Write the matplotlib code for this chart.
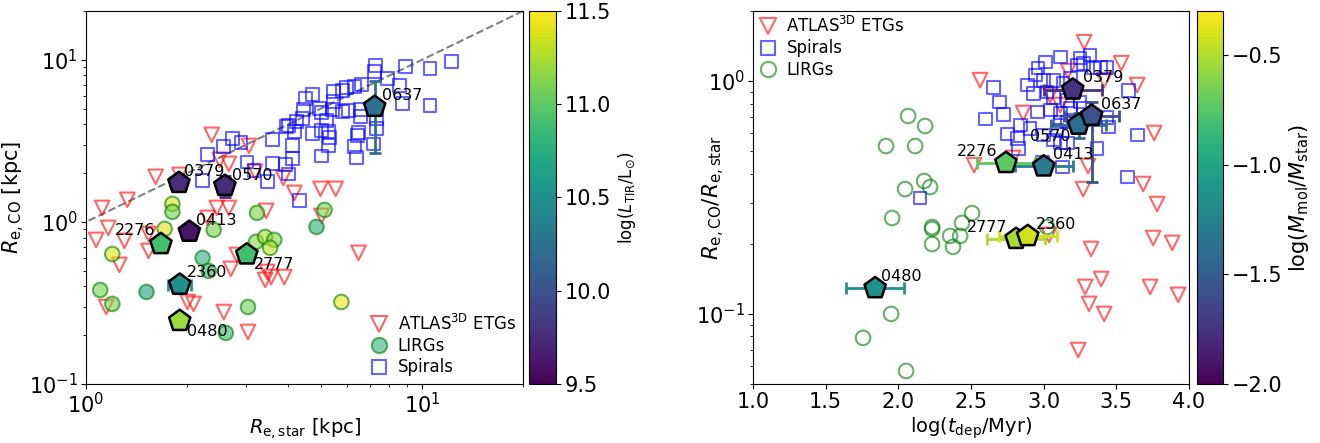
import numpy as np
import matplotlib
matplotlib.use("Agg")
import matplotlib.pyplot as plt
from matplotlib.lines import Line2D

plt.rcParams['font.size'] = 14
plt.rcParams['xtick.labelsize'] = 15
plt.rcParams['ytick.labelsize'] = 15
plt.rcParams['xtick.major.pad'] = 2.5
plt.rcParams['ytick.major.pad'] = 2.5

# ---------------- left panel data (log10 of kpc) ----------------
spiral_lx = [1.087, 1.024, 0.952, 0.862, 0.859, 0.898, 0.934, 0.943, 1.024, 0.820,
             0.799, 0.775, 0.763, 0.737, 0.674, 0.653, 0.737, 0.695, 0.701, 0.734,
             0.763, 0.781, 0.817, 0.817, 0.865, 0.865, 0.856, 0.647, 0.644, 0.716,
             0.602, 0.620, 0.674, 0.701, 0.722, 0.725, 0.722, 0.811, 0.808, 0.799,
             0.805, 0.701, 0.614, 0.614, 0.593, 0.602, 0.554, 0.554, 0.539, 0.500,
             0.479, 0.461, 0.437, 0.410, 0.362, 0.347, 0.635, 0.626, 0.596]
spiral_ly = [0.988, 0.944, 0.957, 0.963, 0.926, 0.883, 0.840, 0.728, 0.716, 0.846,
             0.833, 0.827, 0.809, 0.802, 0.784, 0.759, 0.741, 0.698, 0.673, 0.691,
             0.679, 0.685, 0.691, 0.648, 0.636, 0.574, 0.481, 0.691, 0.636, 0.623,
             0.593, 0.556, 0.543, 0.562, 0.556, 0.519, 0.469, 0.549, 0.531, 0.463,
             0.395, 0.407, 0.469, 0.389, 0.352, 0.296, 0.506, 0.358, 0.247, 0.315,
             0.370, 0.488, 0.512, 0.463, 0.414, 0.253, 0.130, 0.617, 0.586]

etg_lx = [0.374, 0.485, 0.398, 0.425, 0.503, 0.587, 0.207, 0.278, 0.123, 0.048,
          0.389, 0.425, 0.536, 0.620, 0.698, 0.743, 0.701, 0.362, 0.030, 0.066,
          0.114, 0.186, 0.186, 0.099, 0.449, 0.431, 0.533, 0.551, 0.590, 0.539,
          0.302, 0.320, 0.410, 0.482, 0.060, 0.811]
etg_ly = [0.537, 0.469, 0.383, 0.358, 0.309, 0.272, 0.278, 0.290, 0.136, 0.086,
          0.086, 0.086, 0.068, 0.179, 0.204, 0.204, 0.037, 0.025, -0.111, -0.037,
          -0.117, -0.074, -0.179, -0.265, -0.204, -0.290, -0.358, -0.340, -0.340, -0.309,
          -0.494, -0.506, -0.556, -0.679, -0.525, -0.191]

lirg_lx = [0.257, 0.257, 0.509, 0.710, 0.686, 0.234, 0.380, 0.078, 0.506, 0.533,
           0.560, 0.548, 0.347, 0.365, 0.042, 0.078, 0.180, 0.482, 0.416, 0.760]
lirg_ly = [0.111, 0.062, 0.056, 0.074, -0.031, -0.043, -0.049, -0.198, -0.123, -0.093,
           -0.111, -0.160, -0.222, -0.302, -0.420, -0.506, -0.432, -0.525, -0.685, -0.494]
lirg_ltir = [11.4, 11.1, 11.1, 11.1, 10.75, 11.4, 11.1, 11.4, 11.15, 11.25,
             11.15, 11.3, 10.75, 10.8, 11.1, 11.1, 10.6, 11.05, 10.85, 11.45]

names = ['0379', '0570', '0413', '2276', '2777', '2360', '0480', '0637']
re_star = [1.89, 2.59, 2.03, 1.67, 3.01, 1.90, 1.90, 7.23]
re_co = [1.74, 1.67, 0.87, 0.73, 0.63, 0.41, 0.245, 5.13]
re_star_err = [0, 0, 0, 0, 0, 0.15, 0, 0]
re_co_err_lo = [0, 0.24, 0, 0, 0, 0, 0, 2.46]
re_co_err_hi = [0, 0.24, 0, 0, 0, 0, 0, 2.29]
log_ltir = [9.75, 9.75, 9.6, 10.9, 10.9, 10.5, 11.2, 10.25]

# ---------------- right panel data ----------------
lirg_tdep = [2.067, 2.184, 1.915, 2.115, 2.177, 2.218, 2.046, 1.957, 2.232, 2.232,
             2.232, 2.356, 2.425, 2.438, 2.507, 2.376, 1.950, 1.757, 2.053, 3.023]
lirg_lratio = [-0.150, -0.193, -0.279, -0.279, -0.429, -0.455, -0.464, -0.588, -0.627, -0.635,
               -0.700, -0.665, -0.665, -0.609, -0.567, -0.712, -1.000, -1.103, -1.245, -0.627]

spiral_tdep = [2.652, 2.693, 2.721, 2.597, 2.955, 2.748, 2.817, 2.824, 2.906, 2.996,
               3.065, 3.092, 3.113, 3.250, 3.319, 3.388, 3.436, 2.961, 2.941, 2.886,
               2.996, 3.065, 3.133, 3.230, 3.271, 3.340, 3.023, 3.065, 3.161, 3.182,
               3.250, 3.271, 2.927, 3.113, 3.113, 3.161, 3.436, 3.443, 3.581, 3.643,
               3.367, 3.113, 3.161, 2.989, 3.127, 3.574, 2.149, 3.010, 3.182, 3.044, 2.838]
spiral_lratio = [-0.026, -0.090, -0.142, -0.163, -0.133, -0.227, -0.245, -0.288, -0.202, -0.232,
                 -0.253, -0.210, 0.103, 0.099, 0.112, 0.060, 0.060, 0.056, 0.026, -0.017,
                 0.004, 0.004, -0.009, 0.069, 0.077, 0.056, -0.047, -0.069, -0.082, -0.116,
                 -0.090, -0.116, -0.052, -0.137, -0.176, -0.176, -0.155, -0.197, -0.039, -0.232,
                 -0.288, -0.266, -0.266, -0.348, -0.369, -0.412, -0.502, 0.082, 0.013, -0.124, -0.189]

etg_tdep = [3.278, 3.533, 2.562, 2.858, 3.643, 3.760, 3.416, 3.168, 2.521, 3.305,
            3.271, 3.684, 3.780, 3.753, 3.884, 3.326, 3.395, 3.285, 3.732, 3.925,
            3.312, 3.416, 3.237, 3.037, 2.789, 3.044, 3.113]
etg_lratio = [0.167, 0.077, 0.004, -0.137, -0.017, -0.223, 0.004, 0.043, -0.361, -0.365,
              -0.464, -0.442, -0.528, -0.674, -0.695, -0.721, -0.850, -0.884, -0.884, -0.918,
              -0.957, -1.000, -1.155, -0.661, -0.330, -0.060, -0.103]

tdep = [3.20, 3.24, 3.00, 2.74, 2.81, 2.89, 1.84, 3.33]
tdep_err = [0.2, 0.19, 0.2, 0.2, 0.2, 0.2, 0.2, 0.19]
ratio = [0.92, 0.65, 0.43, 0.445, 0.21, 0.216, 0.129, 0.71]
ratio_err_lo = [0, 0.08, 0, 0, 0, 0, 0, 0.34]
ratio_err_hi = [0, 0.08, 0, 0, 0, 0, 0, 0.10]
log_fmol = [-1.75, -1.4, -1.3, -0.73, -0.52, -0.42, -1.15, -1.57]

# label offsets in points (dx, dy, ha, va)
left_offsets = {'0379': (4, 3, 'left', 'bottom'), '0570': (5, 2, 'left', 'bottom'),
                '0413': (5, 3, 'left', 'bottom'), '2276': (-4, 4, 'right', 'bottom'),
                '2777': (5, -2, 'left', 'top'), '2360': (5, 3, 'left', 'bottom'),
                '0480': (5, -2, 'left', 'top'), '0637': (5, 3, 'left', 'bottom')}
right_offsets = {'0379': (7, 3, 'left', 'bottom'), '0570': (-6, -3, 'right', 'top'),
                 '0413': (7, 3, 'left', 'bottom'), '2276': (-6, 3, 'right', 'bottom'),
                 '2777': (-6, 3, 'right', 'bottom'), '2360': (6, 3, 'left', 'bottom'),
                 '0480': (4, 3, 'left', 'bottom'), '0637': (7, 3, 'left', 'bottom')}

cmap = plt.get_cmap('viridis')

fig = plt.figure(figsize=(13.2, 4.43), dpi=100)
ax1 = fig.add_axes([0.0652, 0.1332, 0.3311, 0.842])
cax1 = fig.add_axes([0.4008, 0.1332, 0.0205, 0.842])
ax2 = fig.add_axes([0.5705, 0.1332, 0.3303, 0.842])
cax2 = fig.add_axes([0.9068, 0.1332, 0.0197, 0.842])

# ---------- left ----------
ax1.plot([0.1, 100], [0.1, 100], '--', color='gray', lw=1.5, zorder=1)
ax1.scatter(10**np.array(etg_lx), 10**np.array(etg_ly), marker='v', s=110,
            facecolors='none', edgecolors='red', alpha=0.6, lw=1.5, zorder=2)
ax1.scatter(10**np.array(lirg_lx), 10**np.array(lirg_ly), marker='o', s=110,
            c=lirg_ltir, cmap=cmap, vmin=9.5, vmax=11.5, edgecolors='g',
            alpha=0.6, lw=1.5, zorder=2)
ax1.scatter(10**np.array(spiral_lx), 10**np.array(spiral_ly), marker='s', s=85,
            facecolors='none', edgecolors='blue', alpha=0.6, lw=1.5, zorder=3)
norm1 = plt.Normalize(9.5, 11.5)
for i, n in enumerate(names):
    col = cmap(norm1(log_ltir[i]))
    if re_star_err[i] > 0 or re_co_err_hi[i] > 0:
        ax1.errorbar(re_star[i], re_co[i], xerr=re_star_err[i] if re_star_err[i] > 0 else None,
                     yerr=[[re_co_err_lo[i]], [re_co_err_hi[i]]] if re_co_err_hi[i] > 0 else None,
                     fmt='none', ecolor=col, elinewidth=2, capsize=4, capthick=2, zorder=4)
sc1 = ax1.scatter(re_star, re_co, marker='p', s=260, c=log_ltir, cmap=cmap,
                  vmin=9.5, vmax=11.5, edgecolors='k', lw=1.8, zorder=5)
for i, n in enumerate(names):
    dx, dy, ha, va = left_offsets[n]
    ax1.annotate(n, (re_star[i], re_co[i]), xytext=(dx, dy), textcoords='offset points',
                 ha=ha, va=va, fontsize=11.5, zorder=6)
ax1.set_xscale('log')
ax1.set_yscale('log')
ax1.set_xlim(1, 20)
ax1.set_ylim(0.1, 20)
ax1.set_xlabel(r'$R_{\rm e,star}$ [kpc]')
ax1.set_ylabel(r'$R_{\rm e,CO}$ [kpc]', fontsize=15)
ax1.xaxis.set_label_coords(0.5, -0.085)
ax1.yaxis.set_label_coords(-0.135, 0.5)
h1 = [Line2D([], [], marker='v', ls='none', ms=11, mfc='none', mec='red', alpha=0.6, mew=1.5),
      Line2D([], [], marker='o', ls='none', ms=11, mfc=cmap(0.65), mec='g', alpha=0.6, mew=1.5),
      Line2D([], [], marker='s', ls='none', ms=9.5, mfc='none', mec='blue', alpha=0.6, mew=1.5)]
ax1.legend(h1, [r'ATLAS$^{\rm 3D}$ ETGs', 'LIRGs', 'Spirals'], loc='lower right',
           frameon=False, fontsize=12, handlelength=1.2, handletextpad=0.5,
           borderaxespad=0.1, borderpad=0.35, labelspacing=0.2)
cb1 = fig.colorbar(sc1, cax=cax1)
cb1.set_ticks([9.5, 10.0, 10.5, 11.0, 11.5])
cb1.ax.tick_params(labelsize=15)
cb1.set_label(r'log($L_{\rm TIR}$/L$_{\odot}$)', fontsize=12)

# ---------- right ----------
ax2.scatter(etg_tdep, 10**np.array(etg_lratio), marker='v', s=110,
            facecolors='none', edgecolors='red', alpha=0.6, lw=1.5, zorder=2)
ax2.scatter(spiral_tdep, 10**np.array(spiral_lratio), marker='s', s=85,
            facecolors='none', edgecolors='blue', alpha=0.6, lw=1.5, zorder=3)
ax2.scatter(lirg_tdep, 10**np.array(lirg_lratio), marker='o', s=110,
            facecolors='none', edgecolors='g', alpha=0.6, lw=1.5, zorder=2)
norm2 = plt.Normalize(-2.0, -0.3)
for i, n in enumerate(names):
    col = cmap(norm2(log_fmol[i]))
    ax2.errorbar(tdep[i], ratio[i], xerr=tdep_err[i],
                 yerr=[[ratio_err_lo[i]], [ratio_err_hi[i]]] if ratio_err_hi[i] > 0 else None,
                 fmt='none', ecolor=col, elinewidth=2, capsize=4, capthick=2, zorder=4)
sc2 = ax2.scatter(tdep, ratio, marker='p', s=260, c=log_fmol, cmap=cmap,
                  vmin=-2.0, vmax=-0.3, edgecolors='k', lw=1.8, zorder=5)
for i, n in enumerate(names):
    dx, dy, ha, va = right_offsets[n]
    ax2.annotate(n, (tdep[i], ratio[i]), xytext=(dx, dy), textcoords='offset points',
                 ha=ha, va=va, fontsize=11.5, zorder=6)
ax2.set_yscale('log')
ax2.set_xlim(1.0, 4.0)
ax2.set_ylim(0.05, 2.0)
ax2.set_xlabel(r'log($t_{\rm dep}$/Myr)')
ax2.set_ylabel(r'$R_{\rm e,CO}/R_{\rm e,star}$', fontsize=15.5)
ax2.xaxis.set_label_coords(0.5, -0.085)
ax2.yaxis.set_label_coords(-0.06, 0.5)
h2 = [Line2D([], [], marker='v', ls='none', ms=11, mfc='none', mec='red', alpha=0.6, mew=1.5),
      Line2D([], [], marker='s', ls='none', ms=9.5, mfc='none', mec='blue', alpha=0.6, mew=1.5),
      Line2D([], [], marker='o', ls='none', ms=11, mfc='none', mec='g', alpha=0.6, mew=1.5)]
ax2.legend(h2, [r'ATLAS$^{\rm 3D}$ ETGs', 'Spirals', 'LIRGs'], loc='upper left',
           frameon=False, fontsize=12, handlelength=1.2, handletextpad=0.5,
           borderaxespad=0.1, borderpad=0.2, labelspacing=0.2)
cb2 = fig.colorbar(sc2, cax=cax2)
cb2.set_ticks([-2.0, -1.5, -1.0, -0.5])
cb2.ax.tick_params(labelsize=15)
cb2.set_label(r'log($M_{\rm mol}/M_{\rm star}$)', fontsize=15)

fig.savefig('out.png', dpi=100)
